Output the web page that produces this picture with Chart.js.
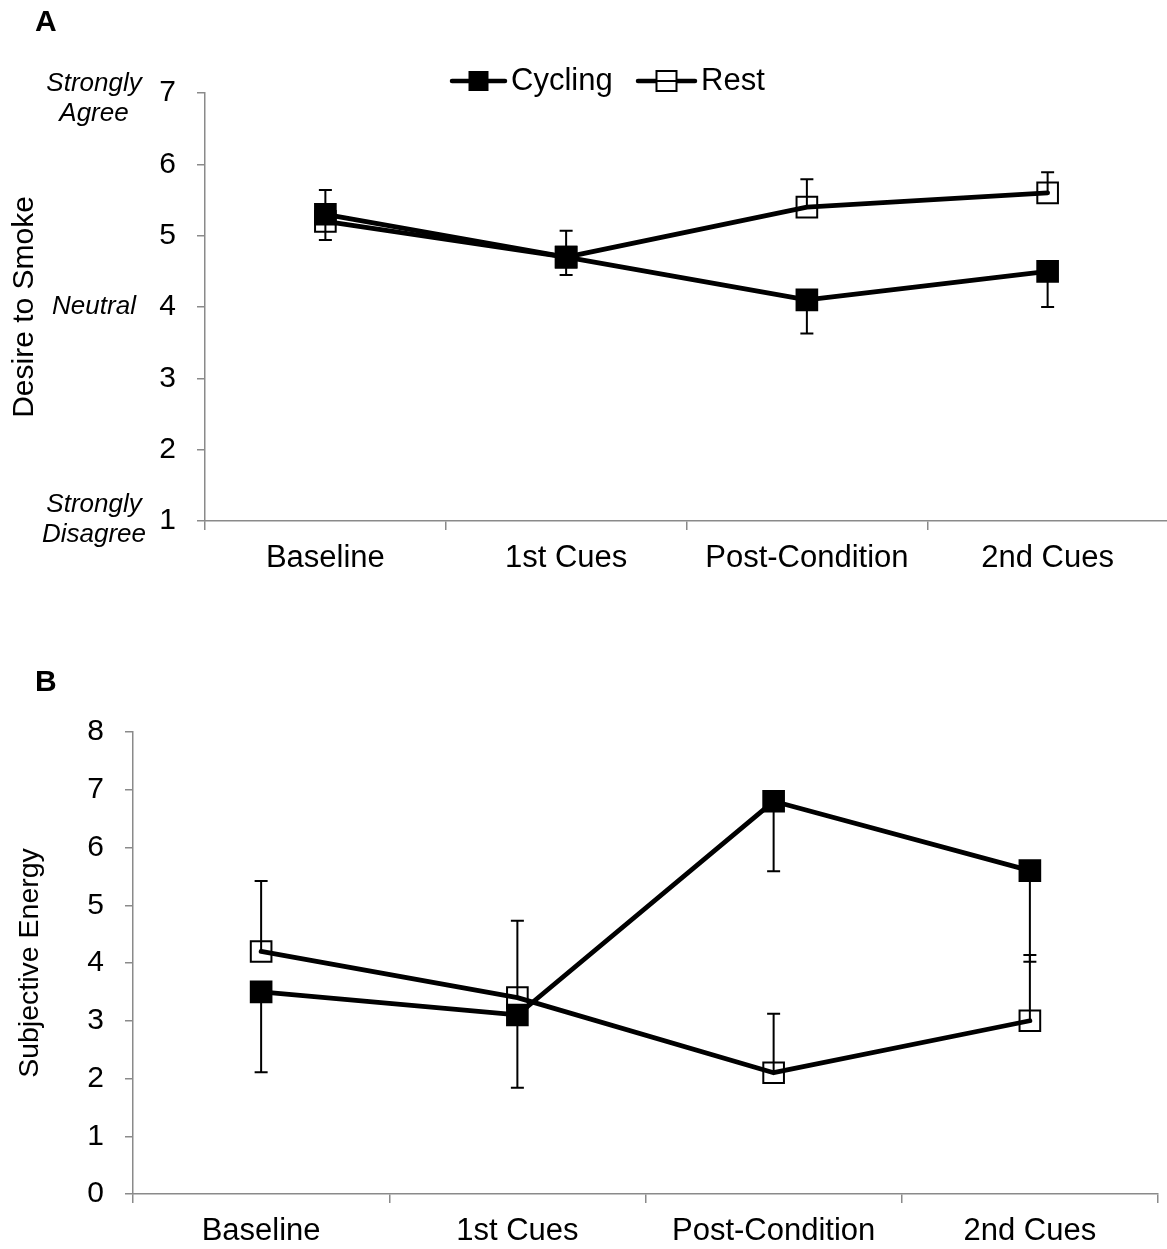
<!DOCTYPE html>
<html>
<head>
<meta charset="utf-8">
<script src="https://cdn.jsdelivr.net/npm/chart.js@4.4.1/dist/chart.umd.min.js"></script>
<style>
  html, body { margin: 0; padding: 0; background: #fff; overflow: hidden; width: 1167px; height: 1249px; }
  .panel { position: absolute; left: 0; }
  .tag { position: absolute; left: 35px; font: bold 30px 'Liberation Sans', Arial, sans-serif; line-height: 30px; }
</style>
</head>
<body>
<canvas id="chartA" class="panel" style="top:0" width="1180" height="600"></canvas>
<canvas id="chartB" class="panel" style="top:600px" width="1167" height="680"></canvas>
<div class="tag" style="top:6px">A</div>
<div class="tag" style="top:666px">B</div>
<script>
const stages = ['Baseline', '1st Cues', 'Post-Condition', '2nd Cues'];

// A: desire to smoke, 1-7 scale
const desireCycling = [5.3, 4.7, 4.1, 4.5];
const desireRest = [5.2, 4.7, 5.4, 5.6];
const desireCyclingErr = [0.36, 0.25, 0.47, 0.50];   // shown below the point
const desireRestErr = [0.44, 0.37, 0.39, 0.29];      // shown above the point
const desireRange = [1, 7];
const anchorValues = [7, 4, 1];
const anchorText = [['Strongly', 'Agree'], ['Neutral'], ['Strongly', 'Disagree']];

// B: subjective energy, 0-8
const energyCycling = [3.5, 3.1, 6.8, 5.6];
const energyRest = [4.2, 3.4, 2.1, 3.0];
const energyCyclingErr = [1.39, 1.26, 1.21, 1.58];
const energyRestErr = [1.22, 1.33, 1.02, 1.14];
const energyRange = [0, 8];

const FONT = "'Liberation Sans', Arial, sans-serif";
const AXIS_GREY = '#8a8a8a';
Chart.defaults.font.family = FONT;
Chart.defaults.color = '#000';

// one-sided error bars: errDir -1 draws down, +1 draws up
const errorBars = {
  id: 'errorBars',
  beforeDatasetsDraw(chart) {
    const ctx = chart.ctx;
    const y = chart.scales.y;
    ctx.save();
    ctx.strokeStyle = '#000';
    ctx.lineWidth = 2;
    chart.data.datasets.forEach((ds, i) => {
      chart.getDatasetMeta(i).data.forEach((pt, j) => {
        const end = y.getPixelForValue(ds.data[j] + ds.errDir * ds.err[j]);
        ctx.beginPath();
        ctx.moveTo(pt.x, pt.y);
        ctx.lineTo(pt.x, end);
        ctx.moveTo(pt.x - 6.5, end);
        ctx.lineTo(pt.x + 6.5, end);
        ctx.stroke();
      });
    });
    ctx.restore();
  }
};

// legend across the top of panel A
const topLegend = {
  id: 'topLegend',
  afterDraw(chart) {
    const ctx = chart.ctx;
    const items = [
      { x0: 452, x1: 505, text: 'Cycling', fill: '#000' },
      { x0: 638, x1: 695, text: 'Rest', fill: null }
    ];
    const yc = 81;
    ctx.save();
    items.forEach(it => {
      ctx.strokeStyle = '#000';
      ctx.lineCap = 'round';
      ctx.lineWidth = 4.5;
      ctx.beginPath();
      ctx.moveTo(it.x0, yc);
      ctx.lineTo(it.x1, yc);
      ctx.stroke();
      const cx = (it.x0 + it.x1) / 2;
      ctx.lineWidth = 2;
      if (it.fill) {
        ctx.fillStyle = it.fill;
        ctx.fillRect(cx - 10, yc - 10, 20, 20);
      } else {
        ctx.fillStyle = '#fff';
        ctx.fillRect(cx - 10, yc - 10, 20, 20);
        ctx.strokeRect(cx - 10, yc - 10, 20, 20);
        ctx.beginPath();
        ctx.moveTo(cx - 10, yc);
        ctx.lineTo(cx + 10, yc);
        ctx.stroke();
      }
      ctx.fillStyle = '#000';
      ctx.font = '31px ' + FONT;
      ctx.textBaseline = 'middle';
      ctx.textAlign = 'left';
      ctx.fillText(it.text, it.x1 + 6, yc);
    });
    ctx.restore();
  }
};

// italic scale anchors beside the 1-7 axis
const anchors = {
  id: 'anchors',
  afterDraw(chart) {
    const ctx = chart.ctx;
    const y = chart.scales.y;
    ctx.save();
    ctx.font = 'italic 26px ' + FONT;
    ctx.fillStyle = '#000';
    ctx.textAlign = 'center';
    ctx.textBaseline = 'middle';
    anchorValues.forEach((v, i) => {
      const lines = anchorText[i];
      const base = y.getPixelForValue(v);
      const first = lines.length === 1 ? base : (v === 1 ? base - 16 : base - 9);
      lines.forEach((t, k) => ctx.fillText(t, 94, first + k * 30));
    });
    ctx.restore();
  }
};

function series(label, values, err, dir, fill) {
  return {
    label: label,
    data: values,
    err: err,
    errDir: dir,
    borderColor: '#000',
    borderWidth: 4.8,
    borderCapStyle: 'round',
    borderJoinStyle: 'round',
    tension: 0,
    pointStyle: 'rect',
    pointRadius: 14.6,
    pointBorderWidth: 2,
    pointBorderColor: '#000',
    pointBackgroundColor: fill
  };
}

function makeChart(id, cfg) {
  const axisGrid = { drawOnChartArea: false, drawTicks: true, tickLength: 8, color: AXIS_GREY, lineWidth: 1.5 };
  return new Chart(document.getElementById(id), {
    type: 'line',
    data: {
      labels: stages,
      datasets: [
        series('Cycling', cfg.cycling, cfg.cyclingErr, -1, '#000'),
        series('Rest', cfg.rest, cfg.restErr, 1, 'rgba(0,0,0,0)')
      ]
    },
    options: {
      responsive: false,
      animation: false,
      events: [],
      layout: { padding: cfg.padding, autoPadding: false },
      plugins: { legend: { display: false }, tooltip: { enabled: false } },
      scales: {
        x: {
          offset: true,
          afterFit: s => { s.height = cfg.xHeight; s.paddingLeft = 0; s.paddingRight = 0; },
          grid: Object.assign({ offset: true }, axisGrid, { tickLength: 9 }),
          border: { color: AXIS_GREY, width: 1.5 },
          ticks: { padding: 10, maxRotation: 0, autoSkip: false, font: { size: 31 } }
        },
        y: {
          min: cfg.range[0],
          max: cfg.range[1],
          afterFit: s => { s.width = cfg.yWidth; s.paddingTop = 0; s.paddingBottom = 0; },
          grid: axisGrid,
          border: { color: AXIS_GREY, width: 1.5 },
          ticks: { stepSize: 1, padding: 21, font: { size: 30 } },
          title: { display: true, text: cfg.title, font: { size: cfg.titleSize }, padding: { top: cfg.titlePad, bottom: 0 } }
        }
      }
    },
    plugins: [errorBars].concat(cfg.extra)
  });
}

makeChart('chartA', {
  cycling: desireCycling, rest: desireRest,
  cyclingErr: desireCyclingErr, restErr: desireRestErr,
  range: desireRange,
  title: 'Desire to Smoke', titleSize: 30, titlePad: 6,
  padding: { top: 93, right: 12, left: 1, bottom: 0 },
  xHeight: 79, yWidth: 204,
  extra: [anchors, topLegend]
});

makeChart('chartB', {
  cycling: energyCycling, rest: energyRest,
  cyclingErr: energyCyclingErr, restErr: energyRestErr,
  range: energyRange,
  title: 'Subjective Energy', titleSize: 28.5, titlePad: 13,
  padding: { top: 132, right: 9, left: 0, bottom: 0 },
  xHeight: 86, yWidth: 133,
  extra: []
});
</script>
</body>
</html>
